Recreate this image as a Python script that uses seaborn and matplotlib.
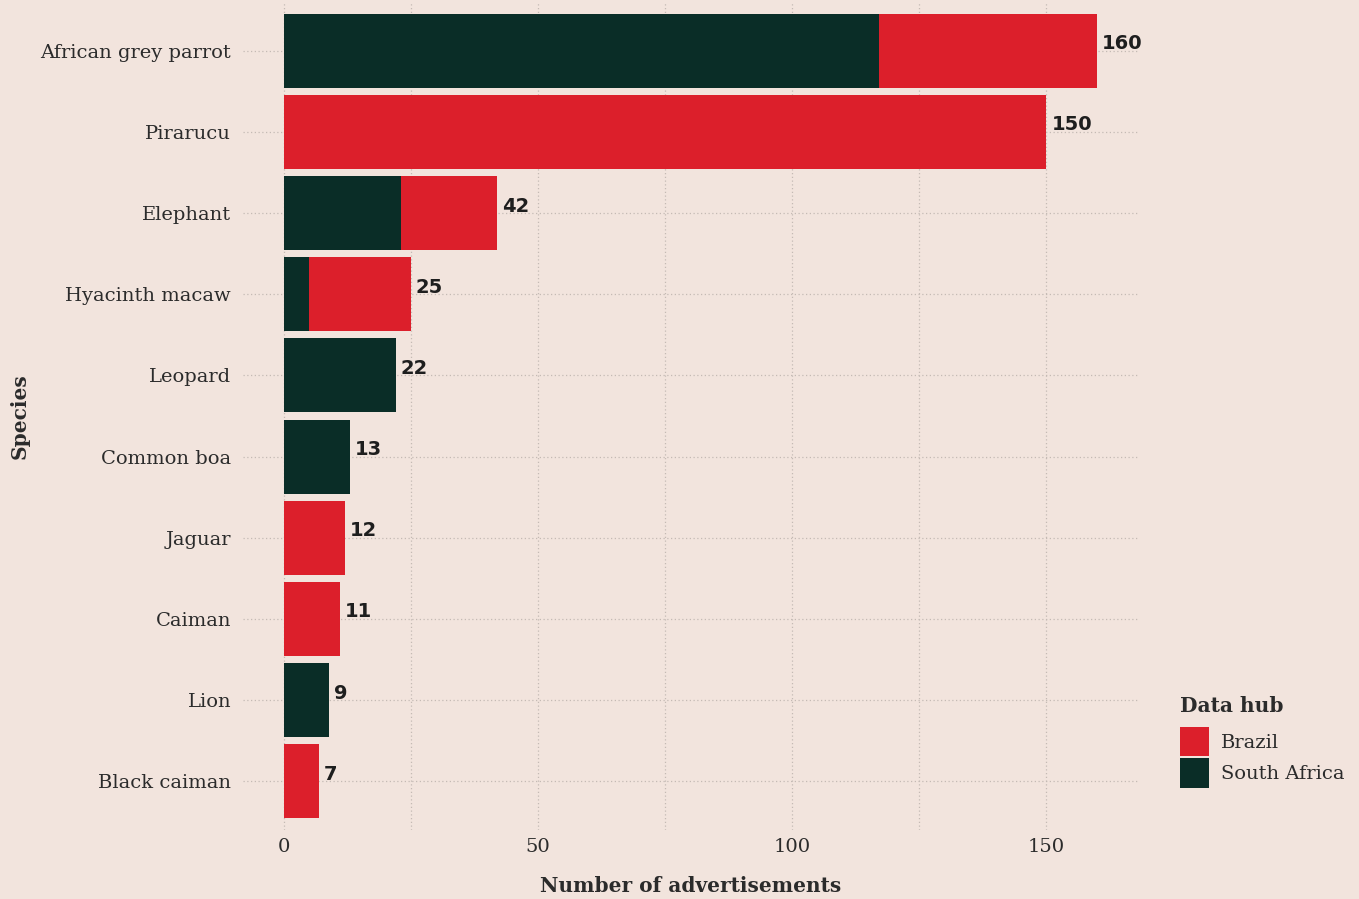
import matplotlib
matplotlib.use("Agg")
import matplotlib.pyplot as plt
from matplotlib.patches import Patch
from matplotlib.ticker import MultipleLocator
import numpy as np
import pandas as pd
import seaborn as sns

# Wildlife advertisements by species, split by data hub
species = ["African grey parrot", "Pirarucu", "Elephant", "Hyacinth macaw", "Leopard",
           "Common boa", "Jaguar", "Caiman", "Lion", "Black caiman"]
south_africa = [117, 0, 23, 5, 22, 13, 0, 0, 9, 0]
brazil = [43, 150, 19, 20, 0, 0, 12, 11, 0, 7]
hubs = ["Brazil", "South Africa"]
x_ticks = [0, 50, 100, 150]

BG = "#f2e4dd"
RED = "#dc1f2b"
GREEN = "#0a2d27"
TEXT = "#2b2b2b"
GRID = "#c4bab4"

df = pd.DataFrame({"species": species, "south_africa": south_africa, "brazil": brazil})
df["total"] = df["south_africa"] + df["brazil"]
# red layer spans the whole stacked bar when Brazil contributes
df["red_layer"] = np.where(df["brazil"] > 0, df["total"], 0)

sns.set_theme(style="white")
plt.rcParams["font.family"] = ["DejaVu Serif"]

fig = plt.figure(figsize=(13.59, 8.99), dpi=100, facecolor=BG)
ax = fig.add_axes([243 / 1359, 1 - 830 / 899, (1138 - 243) / 1359, (830 - 2) / 899])
ax.set_facecolor(BG)

sns.barplot(data=df, y="species", x="red_layer", color=RED, width=0.91,
            linewidth=0, saturation=1, ax=ax, zorder=3)
sns.barplot(data=df, y="species", x="south_africa", color=GREEN, width=0.91,
            linewidth=0, saturation=1, ax=ax, zorder=4)

ax.set_xlim(-8, 168)
ax.set_ylim(len(species) - 1 + 0.6, -0.6)

ax.xaxis.set_major_locator(MultipleLocator(50))
ax.xaxis.set_minor_locator(MultipleLocator(25))
ax.set_xticks(x_ticks)
ax.grid(True, which="both", axis="x", linestyle=(0, (1, 2)), color=GRID, linewidth=0.9, zorder=0)
ax.grid(True, which="major", axis="y", linestyle=(0, (1, 2)), color=GRID, linewidth=0.9, zorder=0)
ax.set_axisbelow(True)
for s in ax.spines.values():
    s.set_visible(False)

ax.tick_params(axis="y", length=0, pad=8.5, labelsize=14, labelcolor=TEXT)
ax.tick_params(axis="x", which="both", length=0, pad=6, labelsize=14, labelcolor=TEXT)

ax.set_xlabel("Number of advertisements", fontsize=14.5, fontweight="bold", color=TEXT, labelpad=14)
ax.set_ylabel("Species", fontsize=14.5, fontweight="bold", color=TEXT, labelpad=8)

for i, tot in enumerate(df["total"]):
    ax.annotate(str(tot), xy=(tot, i), xytext=(3.5, 5), textcoords="offset points",
                ha="left", va="center", fontsize=14, fontweight="bold",
                family=["DejaVu Sans"], color="#1e1e1e", zorder=5)

handles = [Patch(facecolor=RED, edgecolor="none"), Patch(facecolor=GREEN, edgecolor="none")]
leg = fig.legend(handles, hubs, title="Data hub", loc="upper left",
                 bbox_to_anchor=(1172 / 1359, 1 - 688 / 899), frameon=False,
                 fontsize=14, title_fontsize=14.5, handlelength=1.5, handleheight=1.95,
                 handletextpad=0.6, labelspacing=0.1, borderaxespad=0)
leg.get_title().set_fontweight("bold")
leg.get_title().set_color(TEXT)
leg._legend_box.align = "left"
leg._legend_box.sep = 8
for t in leg.get_texts():
    t.set_color(TEXT)

fig.savefig("out.png", dpi=100, facecolor=BG)
